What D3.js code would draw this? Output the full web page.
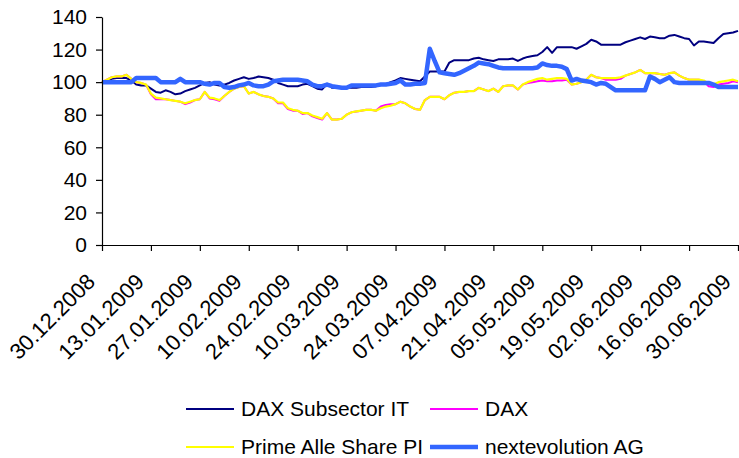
<!DOCTYPE html>
<html>
<head>
<meta charset="utf-8">
<script src="https://cdn.jsdelivr.net/npm/d3@7"></script>
<style>
  html, body { margin: 0; padding: 0; background: #fff; }
  svg { display: block; }
  text { font-family: "Liberation Sans", Arial, sans-serif; fill: #000; }
</style>
</head>
<body>
<svg id="chart" width="739" height="458"></svg>
<script>
// ---- Data ----
const xLabels = ["30.12.2008","13.01.2009","27.01.2009","10.02.2009","24.02.2009","10.03.2009","24.03.2009","07.04.2009","21.04.2009","05.05.2009","19.05.2009","02.06.2009","16.06.2009","30.06.2009"];
const yTicks = [0, 20, 40, 60, 80, 100, 120, 140];
const seriesNames = ["DAX Subsector IT", "DAX", "Prime Alle Share PI", "nextevolution AG"];

const daxSubsectorIT = [
100,101,102,102.5,102.5,102.5,101,98.5,98,98,
96,94,93.5,95,94,92.5,93,94.5,95.5,96.5,
98,99.5,100,98.5,98,98.5,99.5,101,102,103,
102,102.5,103.5,103,102.5,101.5,99.5,98.5,97.5,97.5,
97.5,98.5,99,97.5,96,95.5,99,96.5,96.5,96.5,
96.5,96.5,96.5,97,97,97,97.5,98.5,98.5,100,
101,102.5,102,101.5,101,100.5,103.5,106.5,106.5,106.5,
106.5,112,113.5,113.5,113.5,113.5,114.5,115,114,113.5,
113,114,114,114,114.5,113,114.5,115.5,116,116.5,
118.5,121.5,118,121.5,121.5,121.5,121.5,120.5,122,123.5,
126,125,123,123,123,123,123,124.5,125.5,126.5,
127.5,126.5,128,127.5,127,127,128.5,129,128,127,
126.5,122.5,125,125,124.5,124,127,129.5,130,130.5,
131.5];

const dax = [
100,101.5,103,103.5,103.5,104.5,102,100,99.5,98.5,
92.5,89.5,89.5,89.5,89,88.5,88,86.5,87.5,89,
89.5,94,90,89.5,88.5,91.5,94,96,97,97.5,
93,94,92.5,91.5,91,90,87,87,83.5,82.5,
82.5,80.5,81,79,78,77,81,77,77,77.5,
80,81.5,82,82.5,83,83,82.5,85,86,86.5,
86.5,88,87,85,83.5,83,89,91,91,91,
89.5,92,93.5,94,94,94.5,94.5,96.5,95.5,94.5,
96,94,97.5,98,98,95.5,98.5,99.5,100,100.5,
101,100.5,100.5,101,101,101.5,98.5,99,100,101.5,
104.5,103,102.5,101.5,101.5,101.5,102,104,105,106,
107.5,105.5,105.5,105.5,105,104.5,105.5,106,104,102.5,
101.5,101.5,101.5,100.5,97.5,97,98.5,99,99.5,100.5,
100];

const primeAllShare = [
100,101.5,103,103.5,103.5,104.5,102,100,99.5,98.5,
93,90.5,90,89.5,89,88.5,88,87,88,89,
89.5,94,90.5,90,89,91.5,94,96,97,97.5,
93,94,92.5,91.5,91,90,87.5,87.5,84,83,
82.5,81,81,79.5,78.5,77.5,81,77,77,77.5,
80,81.5,82,82.5,83,83,82.5,84,85,85.5,
86.5,88,87,85,83.5,83,89,91,91,91,
89.5,92,93.5,94,94,94.5,94.5,96.5,95.5,94.5,
96,94,97.5,98,98,95.5,98.5,100,101,102,
102.5,101.5,102,102.5,102.5,102,98.5,99,100,101.5,
104.5,103,102.5,102.5,102.5,102.5,103,104,105,106,
107.5,105.5,105.5,105.5,105,104.5,105.5,106,104,102.5,
101.5,101.5,101.5,101,99,98.5,100,100.5,101,101.5,
100.5];

const nextevolution = [
100,100,100,100,100,100,100,102.5,102.5,102.5,
102.5,102.5,100,100,100,100,102,100,100,100,
100,99,98.5,99.5,99.5,97,96.5,97,98,98.5,
99.5,98,97.5,97.5,98.5,100.5,101,101.5,101.5,101.5,
101.5,101,100.5,98.5,97.5,97.5,98.5,97.5,97,96.5,
96.5,98,98,98,98,98,98,98.5,98.5,99,
99.5,101,98.5,98.5,99,99,99.5,120.5,113,106,
105.5,105,104.5,105.5,107,108.5,110,112,111.5,111,
110,109,108.5,108.5,108.5,108.5,108.5,108.5,108.5,109,
111.5,110.5,110,110,109.5,108,101,102,101,100.5,
100,98.5,99.5,99,97,95,95,95,95,95,
95,95,103.5,102,100,101.5,103,100,99.5,99.5,
99.5,99.5,99.5,99.5,99.5,98.5,97,97,97,97,
97];

const seriesData = [daxSubsectorIT, dax, primeAllShare, nextevolution];
const seriesColors = ["#000080", "#FF00FF", "#FFFF00", "#3366FF"];
const seriesWidths = [2, 2, 2.2, 4.5];

// ---- Chart ----
const svg = d3.select("#chart");
const x = d3.scaleLinear().domain([0, 130]).range([102, 738]);
const y = d3.scaleLinear().domain([0, 140]).range([245, 17]);

// lines
const line = d3.line().x((d, i) => x(i)).y(d => y(d));
seriesData.forEach((data, k) => {
  svg.append("path")
    .datum(data)
    .attr("fill", "none")
    .attr("stroke", seriesColors[k])
    .attr("stroke-width", seriesWidths[k])
    .attr("stroke-linejoin", "round")
    .attr("d", line);
});

// y axis
const yAxis = d3.axisLeft(y).tickValues(yTicks).tickSize(6).tickSizeOuter(0).tickPadding(9);
const gy = svg.append("g").attr("transform", "translate(102,0)").call(yAxis);
gy.selectAll("text").style("font-size", "21px").attr("font-family", null);
gy.selectAll("line, path").attr("stroke", "#000").attr("stroke-width", 1.2);

// x axis
const xTickIdx = xLabels.map((d, i) => i * 10);
const xAxis = d3.axisBottom(x).tickValues(xTickIdx).tickSize(6).tickSizeOuter(0)
  .tickFormat((d, i) => xLabels[i]);
const gx = svg.append("g").attr("transform", "translate(0,245)").call(xAxis);
gx.selectAll("line, path").attr("stroke", "#000").attr("stroke-width", 1.2);
gx.selectAll("text")
  .style("font-size", "22px")
  .attr("text-anchor", "end")
  .attr("dy", null)
  .attr("y", 0)
  .attr("transform", "translate(-6,38) rotate(-45)");

// legend
const legendPos = [
  {lx: 186, tx: 241, y: 409},
  {lx: 430, tx: 485, y: 409},
  {lx: 186, tx: 241, y: 447},
  {lx: 430, tx: 485, y: 447}
];
const lg = svg.append("g");
seriesNames.forEach((name, k) => {
  const p = legendPos[k];
  lg.append("line")
    .attr("x1", p.lx).attr("x2", p.lx + 48)
    .attr("y1", p.y).attr("y2", p.y)
    .attr("stroke", seriesColors[k])
    .attr("stroke-width", seriesWidths[k]);
  lg.append("text")
    .attr("x", p.tx).attr("y", p.y)
    .attr("dy", "0.35em")
    .style("font-size", "21px")
    .text(name);
});
</script>
</body>
</html>
